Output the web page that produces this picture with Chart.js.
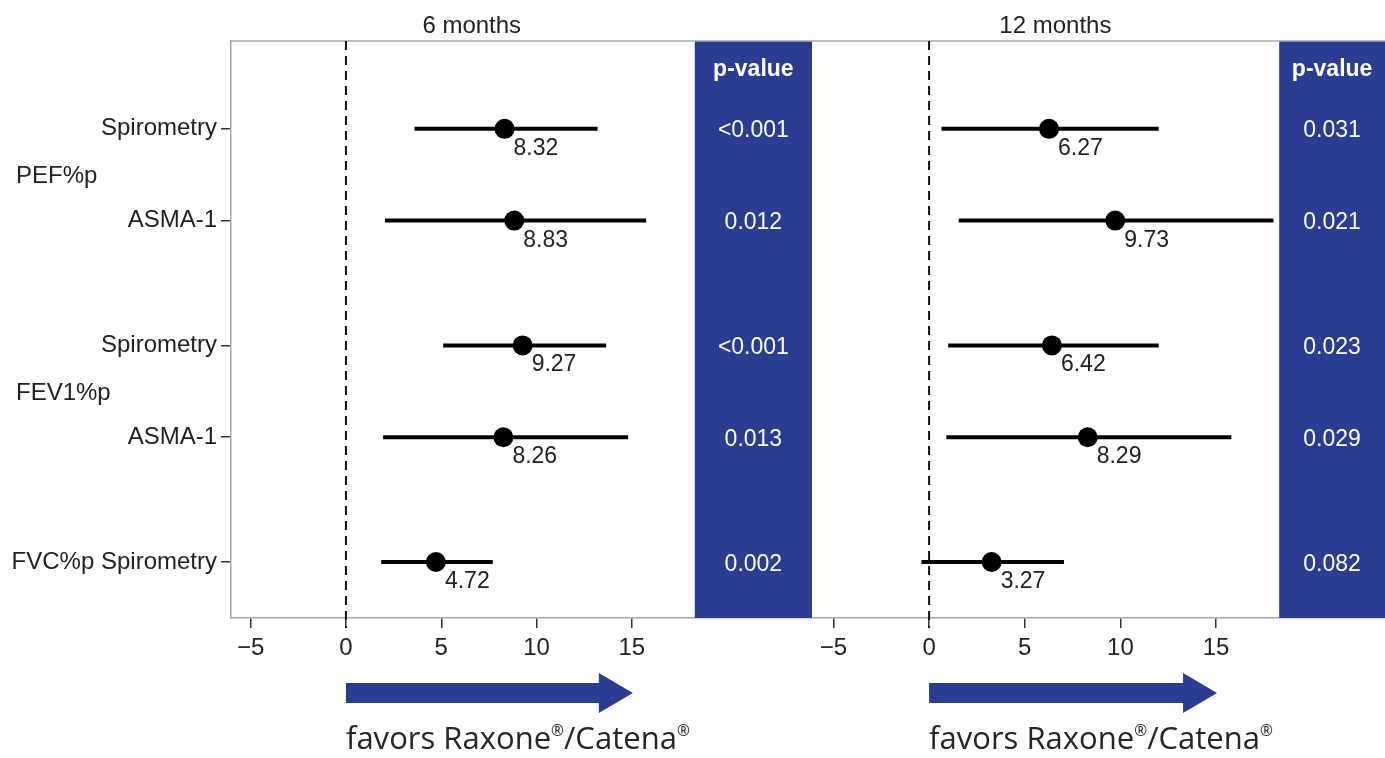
<!DOCTYPE html>
<html>
<head>
<meta charset="utf-8">
<script src="https://cdn.jsdelivr.net/npm/chart.js@4.4.1/dist/chart.umd.min.js"></script>
<style>
html, body { margin: 0; padding: 0; background: #fff; }
#wrap { position: relative; width: 1385px; height: 758px; }
.panel { position: absolute; top: 0; height: 758px; }
</style>
</head>
<body>
<div id="wrap">
  <div class="panel" style="left:0;width:812px"><canvas id="c6"></canvas></div>
  <div class="panel" style="left:812px;width:573px"><canvas id="c12"></canvas></div>
</div>
<script>
// rows of the forest plot
const rowLabels = ['Spirometry', 'ASMA-1', 'Spirometry', 'ASMA-1', 'Spirometry'];
const rowGroups = ['PEF%p', 'PEF%p', 'FEV1%p', 'FEV1%p', 'FVC%p'];

// 6 months
const est6 = [8.32, 8.83, 9.27, 8.26, 4.72];
const lo6 = [3.6, 2.05, 5.1, 1.95, 1.85];
const hi6 = [13.2, 15.75, 13.65, 14.8, 7.7];
const p6 = ['<0.001', '0.012', '<0.001', '0.013', '0.002'];

// 12 months
const est12 = [6.27, 9.73, 6.42, 8.29, 3.27];
const lo12 = [0.65, 1.55, 1.0, 0.9, -0.4];
const hi12 = [12.0, 18.0, 12.0, 15.8, 7.05];
const p12 = ['0.031', '0.021', '0.023', '0.029', '0.082'];

const xTicks = [-5, 0, 5, 10, 15];

const BLUE = '#2a3d92';
const FONT = '"Liberation Sans", Arial, sans-serif';

// y slot per row, groups get a bit of extra room between them
const groupNames = [...new Set(rowGroups)];
const slots = rowLabels.map((_, i) => i + groupNames.indexOf(rowGroups[i]) * 0.36);

function groupSize(g) {
  return rowGroups.filter(r => r === g).length;
}

function tickText(i) {
  return groupSize(rowGroups[i]) === 1 ? rowGroups[i] + ' ' + rowLabels[i] : rowLabels[i];
}

function panelPlugin(p) {
  return {
    id: 'panel' + p.title,
    beforeDatasetsDraw(chart) {
      const { ctx, chartArea: a, scales: { x } } = chart;
      ctx.save();
      const pl = x.getPixelForValue(p.pStart);
      ctx.fillStyle = BLUE;
      ctx.fillRect(pl, a.top, a.right - pl, a.bottom - a.top);

      ctx.strokeStyle = '#a8a8a8';
      ctx.lineWidth = 1.5;
      ctx.beginPath();
      ctx.moveTo(a.left, a.top);
      ctx.lineTo(a.right, a.top);
      ctx.stroke();

      const x0 = x.getPixelForValue(0);
      ctx.strokeStyle = '#111';
      ctx.lineWidth = 2;
      ctx.setLineDash([9, 6]);
      ctx.beginPath();
      ctx.moveTo(x0, a.top);
      ctx.lineTo(x0, a.bottom + 10);
      ctx.stroke();
      ctx.restore();
    },
    afterDatasetsDraw(chart) {
      const { ctx, chartArea: a, scales: { x, y } } = chart;
      ctx.save();

      // estimate labels
      ctx.fillStyle = '#222';
      ctx.font = '23px ' + FONT;
      ctx.textAlign = 'left';
      ctx.textBaseline = 'alphabetic';
      p.est.forEach((v, i) => {
        ctx.fillText(v.toFixed(2), x.getPixelForValue(v) + 9, y.getPixelForValue(slots[i]) + 26);
      });

      // p-value column text
      const pl = x.getPixelForValue(p.pStart);
      const cx = (pl + a.right) / 2;
      ctx.fillStyle = '#fff';
      ctx.textAlign = 'center';
      ctx.font = 'bold 23px ' + FONT;
      ctx.fillText('p-value', cx, a.top + 35);
      ctx.font = '23px ' + FONT;
      p.pvals.forEach((s, i) => {
        ctx.fillText(s, cx, y.getPixelForValue(slots[i]) + 8.5);
      });

      // panel title
      ctx.fillStyle = '#222';
      ctx.font = '24px ' + FONT;
      ctx.fillText(p.title, x.getPixelForValue(6.6), 33);

      // group labels on the left (only for groups with several rows)
      if (p.groupLabels) {
        ctx.textAlign = 'left';
        groupNames.forEach(g => {
          const idx = rowGroups.map((r, i) => r === g ? i : -1).filter(i => i >= 0);
          if (idx.length < 2) return;
          const ys = idx.map(i => y.getPixelForValue(slots[i]));
          const my = (Math.min(...ys) + Math.max(...ys)) / 2;
          ctx.fillText(g, 16, my + 8.5);
        });
      }

      // arrow
      const x0 = x.getPixelForValue(0);
      const tip = x.getPixelForValue(15) + 1;
      const by = a.bottom + 75;
      ctx.fillStyle = BLUE;
      ctx.beginPath();
      ctx.moveTo(x0, by - 10);
      ctx.lineTo(tip - 34, by - 10);
      ctx.lineTo(tip - 34, by - 20);
      ctx.lineTo(tip, by);
      ctx.lineTo(tip - 34, by + 20);
      ctx.lineTo(tip - 34, by + 10);
      ctx.lineTo(x0, by + 10);
      ctx.closePath();
      ctx.fill();

      // caption
      const parts = [['favors Raxone', false], ['\u00AE', true], ['/Catena', false], ['\u00AE', true]];
      const cf = '"Open Sans", "DejaVu Sans", sans-serif';
      let size = 30;
      const measure = s => {
        let w = 0;
        parts.forEach(([t, sup]) => {
          ctx.font = (sup ? s * 0.5 : s) + 'px ' + cf;
          w += ctx.measureText(t).width;
        });
        return w;
      };
      size = size * 344 / measure(size);
      let cxp = x0;
      const base = a.bottom + 131;
      ctx.fillStyle = '#262626';
      ctx.textAlign = 'left';
      parts.forEach(([t, sup]) => {
        ctx.font = (sup ? size * 0.5 : size) + 'px ' + cf;
        ctx.fillText(t, cxp, sup ? base - size * 0.42 : base);
        cxp += ctx.measureText(t).width;
      });
      ctx.restore();
    }
  };
}

function makePanel(id, p) {
  const datasets = [{
    data: p.est.map((v, i) => ({ x: v, y: slots[i] })),
    pointRadius: 10,
    pointBackgroundColor: '#000',
    pointBorderWidth: 0,
    showLine: false,
    order: 0
  }];
  p.lo.forEach((l, i) => {
    datasets.push({
      data: [{ x: l, y: slots[i] }, { x: p.hi[i], y: slots[i] }],
      borderColor: '#000',
      borderWidth: 4,
      pointRadius: 0,
      showLine: true,
      order: 1
    });
  });

  return new Chart(document.getElementById(id), {
    type: 'scatter',
    data: { datasets },
    options: {
      responsive: true,
      maintainAspectRatio: false,
      animation: false,
      events: [],
      layout: { autoPadding: false, padding: { top: 41, left: 0, right: 0, bottom: 0 } },
      plugins: { legend: { display: false }, tooltip: { enabled: false } },
      scales: {
        x: {
          type: 'linear',
          min: p.xMin,
          max: p.xMax,
          afterBuildTicks: s => { s.ticks = xTicks.map(v => ({ value: v })); },
          afterFit: s => { s.height = 140; },
          ticks: {
            color: '#222',
            font: { family: FONT, size: 24 },
            padding: 6,
            maxRotation: 0,
            autoSkip: false,
            callback: v => v < 0 ? '\u2212' + Math.abs(v) : String(v)
          },
          grid: { drawOnChartArea: false, drawTicks: true, tickLength: 10, color: '#333', lineWidth: 1.5 },
          border: { color: '#a8a8a8', width: 1.5 }
        },
        y: {
          type: 'linear',
          reverse: true,
          display: p.showY,
          min: -0.957,
          max: 5.33,
          afterBuildTicks: s => { s.ticks = slots.map(v => ({ value: v })); },
          afterFit: s => { s.width = p.showY ? 231 : 0; },
          ticks: {
            color: '#222',
            font: { family: FONT, size: 24 },
            padding: 4,
            autoSkip: false,
            callback: (v, i) => tickText(i)
          },
          grid: { drawOnChartArea: false, drawTicks: true, tickLength: 10, color: '#333', lineWidth: 1.5 },
          border: { color: '#a8a8a8', width: 1.5 }
        }
      }
    },
    plugins: [panelPlugin(p)]
  });
}

makePanel('c6', {
  title: '6 months', est: est6, lo: lo6, hi: hi6, pvals: p6,
  xMin: -6.03, xMax: 24.45, pStart: 18.3, showY: true, groupLabels: true
});
makePanel('c12', {
  title: '12 months', est: est12, lo: lo12, hi: hi12, pvals: p12,
  xMin: -6.12, xMax: 23.83, pStart: 18.3, showY: false, groupLabels: false
});
</script>
</body>
</html>
